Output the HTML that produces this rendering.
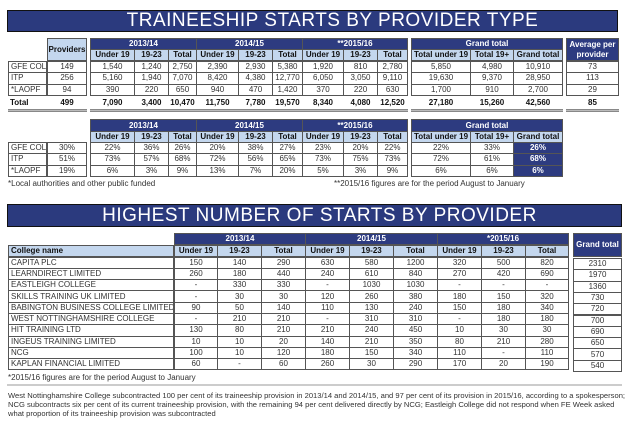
<!DOCTYPE html>
<html><head><meta charset="utf-8">
<style>
html,body{margin:0;padding:0;background:#fff;width:630px;height:429px;overflow:hidden;position:relative;font-family:"Liberation Sans",sans-serif;}
.c{position:absolute;box-sizing:border-box;border:1px solid #555;font-size:8px;color:#333;display:flex;align-items:center;justify-content:center;white-space:nowrap;overflow:hidden;line-height:1;}
.nv{background:#2d3b80;color:#fff;font-weight:bold;}
.lb{background:#c4d7ee;color:#111;font-weight:bold;}
.lft{justify-content:flex-start;padding-left:2px;}
.nb{border:none;}
.tb{font-weight:bold;color:#111;}
.title{position:absolute;background:#2b3a7e;border:1.5px solid #111;color:#fff;box-sizing:border-box;display:flex;align-items:center;justify-content:center;font-size:19px;letter-spacing:0.5px;}
.ul{position:absolute;height:3px;border-top:1px solid #888;border-bottom:1px solid #888;background:#bbb;box-sizing:border-box;}
.note{position:absolute;font-size:8px;color:#333;white-space:nowrap;}
</style></head><body>
<div class="title" style="left:7px;top:10px;width:611px;height:22px;padding-left:40px">TRAINEESHIP STARTS BY PROVIDER TYPE</div>
<div class="title" style="left:7px;top:204px;width:615px;height:23px;padding-left:10px">HIGHEST NUMBER OF STARTS BY PROVIDER</div>
<div class="note" style="left:8px;top:179px">*Local authorities and other public funded</div>
<div class="note" style="left:334px;top:179px">**2015/16 figures are for the period August to January</div>
<div class="note" style="left:8px;top:373px">*2015/16 figures are for the period August to January</div>
<div class="ul" style="left:7px;top:384px;width:615px;height:2px;background:#ccc;border:none"></div>
<div class="note" style="left:8px;top:391px;font-size:7.6px">West Nottinghamshire College subcontracted 100 per cent of its traineeship provision in 2013/14 and 2014/15, and 97 per cent of its provision in 2015/16, according to a spokesperson;</div>
<div class="note" style="left:8px;top:400px;font-size:7.6px">NCG subcontracts six per cent of its current traineeship provision, with the remaining 94 per cent delivered directly by NCG; Eastleigh College did not respond when FE Week asked</div>
<div class="note" style="left:8px;top:409px;font-size:7.6px">what proportion of its traineeship provision was subcontracted</div>
<script>
// ---- data ----
const typeLabels = ['GFE COLLEGE','ITP','*LAOPF'];
const providers = ['149','256','94'];
const startsGFE = ['1,540','1,240','2,750','2,390','2,930','5,380','1,920','810','2,780','5,850','4,980','10,910'];
const startsITP = ['5,160','1,940','7,070','8,420','4,380','12,770','6,050','3,050','9,110','19,630','9,370','28,950'];
const startsLA = ['390','220','650','940','470','1,420','370','220','630','1,700','910','2,700'];
const startsTotal = ['7,090','3,400','10,470','11,750','7,780','19,570','8,340','4,080','12,520','27,180','15,260','42,560'];
const avgPerProvider = ['73','113','29'];
const avgTotal = '85';
const providersTotal = '499';
const providerShare = ['30%','51%','19%'];
const pctGFE = ['22%','36%','26%','20%','38%','27%','23%','20%','22%','22%','33%','26%'];
const pctITP = ['73%','57%','68%','72%','56%','65%','73%','75%','73%','72%','61%','68%'];
const pctLA = ['6%','3%','9%','13%','7%','20%','5%','3%','9%','6%','6%','6%'];
const colleges = ['CAPITA PLC','LEARNDIRECT LIMITED','EASTLEIGH COLLEGE','SKILLS TRAINING UK LIMITED','BABINGTON BUSINESS COLLEGE LIMITED','WEST NOTTINGHAMSHIRE COLLEGE','HIT TRAINING LTD','INGEUS TRAINING LIMITED','NCG','KAPLAN FINANCIAL LIMITED'];
const collegeValues = [
 ['150','140','290','630','580','1200','320','500','820'],
 ['260','180','440','240','610','840','270','420','690'],
 ['-','330','330','-','1030','1030','-','-','-'],
 ['-','30','30','120','260','380','180','150','320'],
 ['90','50','140','110','130','240','150','180','340'],
 ['-','210','210','-','310','310','-','180','180'],
 ['130','80','210','210','240','450','10','30','30'],
 ['10','10','20','140','210','350','80','210','280'],
 ['100','10','120','180','150','340','110','-','110'],
 ['60','-','60','260','30','290','170','20','190']];
const collegeGrand = ['2310','1970','1360','730','720','700','690','650','570','540'];
const subHeads1 = ['Under 19','19-23','Total','Under 19','19-23','Total','Under 19','19-23','Total','Total under 19','Total 19+','Grand total'];
const groups1 = ['2013/14','2014/15','**2015/16','Grand total'];
const groups3 = ['2013/14','2014/15','*2015/16'];
const subHeads3 = ['Under 19','19-23','Total','Under 19','19-23','Total','Under 19','19-23','Total'];

// ---- layout ----
const X1 = [[90,134],[134,168],[168,196],[196,238],[238,272],[272,302],[302,343],[343,377],[377,407],[411,470],[470,513],[513,562]];
const G1 = [[90,196],[196,302],[302,407],[411,562]];
const X3 = [[174,217],[217,261],[261,305],[305,349],[349,393],[393,437],[437,481],[481,525],[525,568]];
const G3 = [[174,305],[305,437],[437,568]];
function cell(x0,x1,y0,y1,txt,cls,name){
 const el=document.createElement('div');
 el.className='c '+(cls||'');
 el.style.left=x0+'px';el.style.top=y0+'px';
 el.style.width=(x1-x0+1)+'px';el.style.height=(y1-y0+1)+'px';
 el.textContent=txt;
 
 
 document.body.appendChild(el);
 return el;
}
function line(x0,x1,y,name){
 const el=document.createElement('div');
 el.className='ul';
 el.style.left=x0+'px';el.style.top=y+'px';el.style.width=(x1-x0)+'px';
 
 
 document.body.appendChild(el);
}
// table 1
cell(47,86,38,60,'Providers','lb','providers-header');
G1.forEach((g,i)=>cell(g[0],g[1],38,49,groups1[i],'nv','group-header'));
X1.forEach((c,i)=>cell(c[0],c[1],49,60,subHeads1[i],'lb','column-header'));
cell(566,618,38,60,'','nv','average-header').innerHTML='<div style="text-align:center;line-height:1.2">Average per<br>provider</div>';
const rows1=[startsGFE,startsITP,startsLA];
const RH=11.3;
rows1.forEach((r,j)=>{
 const y0=61+j*RH,y1=y0+RH;
 cell(8,46,y0,y1,typeLabels[j],'lft','row-label');
 cell(47,86,y0,y1,providers[j],'','providers-cell');
 r.forEach((v,i)=>cell(X1[i][0],X1[i][1],y0,y1,v,'','value-cell'));
 cell(566,618,y0,y1,avgPerProvider[j],'','average-cell');
});
cell(8,46,97,108,'Total','nb tb lft','total-label');
cell(47,86,97,108,providersTotal,'nb tb','total-providers');
startsTotal.forEach((v,i)=>cell(X1[i][0],X1[i][1],97,108,v,'nb tb','total-cell'));
cell(566,618,97,108,avgTotal,'nb tb','total-average');
line(8,87,109,'total-underline');line(90,408,109,'total-underline');line(411,563,109,'total-underline');line(566,619,109,'total-underline');
// table 2
G1.forEach((g,i)=>cell(g[0],g[1],119,131,groups1[i],'nv','group-header'));
X1.forEach((c,i)=>cell(c[0],c[1],131,142,subHeads1[i],'lb','column-header'));
const rows2=[pctGFE,pctITP,pctLA];
rows2.forEach((r,j)=>{
 const y0=142+j*RH,y1=y0+RH;
 cell(8,46,y0,y1,typeLabels[j],'lft','row-label');
 cell(47,86,y0,y1,providerShare[j],'','share-cell');
 r.forEach((v,i)=>cell(X1[i][0],X1[i][1],y0,y1,v,i==11?'nv':'','pct-cell'));
});
// table 3
G3.forEach((g,i)=>cell(g[0],g[1],233,244,groups3[i],'nv','group-header'));
cell(8,173,245,256,'College name','lb lft','college-name-header');
X3.forEach((c,i)=>cell(c[0],c[1],245,256,subHeads3[i],'lb','column-header'));
cell(573,621,233,256,'Grand total','nv','grand-total-header');
colleges.forEach((n,j)=>{
 const y0=256.5+j*RH,y1=y0+RH;
 cell(8,173,y0,y1,n,'lft','college-name');
 collegeValues[j].forEach((v,i)=>cell(X3[i][0],X3[i][1],y0,y1,v,'','value-cell'));
 cell(573,621,y0+1.5,y1+1.5,collegeGrand[j],'','grand-total-cell');
});
</script>
</body></html>
